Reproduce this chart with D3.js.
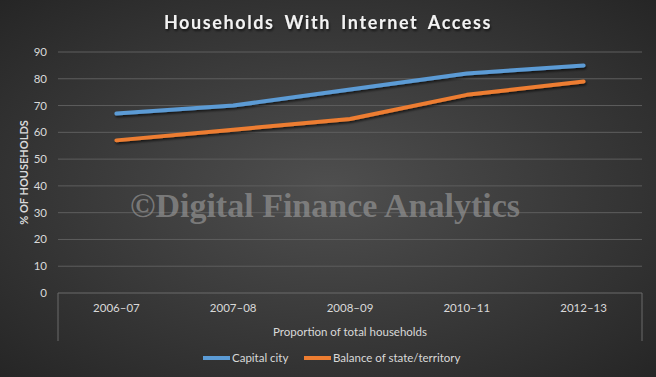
<!DOCTYPE html>
<html>
<head>
<meta charset="utf-8">
<script src="https://cdn.jsdelivr.net/npm/d3@7"></script>
<style>
  html, body { margin: 0; padding: 0; background: #333; }
  svg { display: block; font-family: Lato, "Open Sans", sans-serif; }
</style>
</head>
<body>
<div id="chart"></div>
<script>
const categories = ['2006–07', '2007–08', '2008–09', '2010–11', '2012–13'];
const capitalCity = [67, 70, 76, 82, 85];
const balanceOfState = [57, 61, 65, 74, 79];
const yTicks = [0, 10, 20, 30, 40, 50, 60, 70, 80, 90];
const seriesNames = ['Capital city', 'Balance of state/territory'];
const seriesColors = ['#5b9bd5', '#ed7d31'];

const width = 656;
const height = 377;
const margin = { top: 52, right: 14, bottom: 84, left: 58 };

const svg = d3.select('#chart')
  .append('svg')
  .attr('width', width)
  .attr('height', height);

const defs = svg.append('defs');

// background gradient
const bg = defs.append('radialGradient')
  .attr('id', 'bg')
  .attr('cx', '50%').attr('cy', '50%').attr('r', '75%');
bg.append('stop').attr('offset', '0%').attr('stop-color', '#4f4f4f');
bg.append('stop').attr('offset', '100%').attr('stop-color', '#232323');

const shadow = defs.append('filter').attr('id', 'shadow')
  .attr('x', '-10%').attr('y', '-10%').attr('width', '120%').attr('height', '130%');
shadow.append('feDropShadow')
  .attr('dx', 1).attr('dy', 2).attr('stdDeviation', 1.2)
  .attr('flood-color', '#000').attr('flood-opacity', 0.6);

svg.append('rect')
  .attr('width', width)
  .attr('height', height)
  .attr('fill', 'url(#bg)');

// Title
svg.append('text')
  .attr('x', 328)
  .attr('y', 29)
  .attr('text-anchor', 'middle')
  .attr('fill', '#f2f2f2')
  .attr('filter', 'url(#shadow)')
  .style('font-size', '18px')
  .style('font-weight', 'bold')
  .style('letter-spacing', '1.6px')
  .style('word-spacing', '4px')
  .text('Households With Internet Access');

const plotW = width - margin.left - margin.right;
const plotH = height - margin.top - margin.bottom;

const x = d3.scaleBand()
  .domain(categories)
  .range([margin.left, margin.left + plotW]);

const y = d3.scaleLinear()
  .domain([0, 90])
  .range([margin.top + plotH, margin.top]);

// Gridlines
svg.append('g')
  .selectAll('line')
  .data(yTicks.filter(d => d > 0))
  .join('line')
  .attr('x1', margin.left)
  .attr('x2', margin.left + plotW)
  .attr('y1', d => y(d))
  .attr('y2', d => y(d))
  .attr('stroke', '#5e5e5e')
  .attr('stroke-width', 1);

// Y axis labels
svg.append('g')
  .selectAll('text')
  .data(yTicks)
  .join('text')
  .attr('x', 47)
  .attr('y', d => y(d) + 4)
  .attr('text-anchor', 'end')
  .attr('fill', '#d9d9d9')
  .style('font-size', '11.5px')
  .text(d => d);

// axis box around category area
const boxBottom = 341;
const base = y(0);
svg.append('path')
  .attr('d', `M${margin.left},${boxBottom}V${base}H${margin.left + plotW}V${boxBottom}`)
  .attr('fill', 'none')
  .attr('stroke', '#6a6a6a')
  .attr('stroke-width', 1);

// X tick labels
svg.append('g')
  .selectAll('text')
  .data(categories)
  .join('text')
  .attr('x', d => x(d) + x.bandwidth() / 2)
  .attr('y', 312)
  .attr('text-anchor', 'middle')
  .attr('fill', '#d9d9d9')
  .style('font-size', '11.5px')
  .text(d => d);

// X axis title
svg.append('text')
  .attr('x', margin.left + plotW / 2)
  .attr('y', 336)
  .attr('text-anchor', 'middle')
  .attr('fill', '#d9d9d9')
  .style('font-size', '11.5px')
  .text('Proportion of total households');

// Y axis title
svg.append('text')
  .attr('transform', `translate(28, ${margin.top + plotH / 2}) rotate(-90)`)
  .attr('text-anchor', 'middle')
  .attr('fill', '#d9d9d9')
  .style('font-size', '11px')
  .style('font-weight', 'bold')
  .text('% OF HOUSEHOLDS');

// Watermark
svg.append('text')
  .attr('x', 325)
  .attr('y', 217)
  .attr('text-anchor', 'middle')
  .attr('fill', '#939393')
  .attr('fill-opacity', 0.7)
  .style('font-family', '"Liberation Serif", "DejaVu Serif", serif')
  .style('font-size', '34px')
  .style('font-weight', 'bold')
  .text('©Digital Finance Analytics');

// Lines
const line = d3.line()
  .x((d, i) => x(categories[i]) + x.bandwidth() / 2)
  .y(d => y(d));

[capitalCity, balanceOfState].forEach((vals, i) => {
  svg.append('path')
    .datum(vals)
    .attr('d', line)
    .attr('fill', 'none')
    .attr('stroke', seriesColors[i])
    .attr('stroke-width', 4)
    .attr('stroke-linecap', 'round')
    .attr('stroke-linejoin', 'round')
    .attr('filter', 'url(#shadow)');
});

// Legend
const legendItems = [
  { name: seriesNames[0], color: seriesColors[0], x: 203 },
  { name: seriesNames[1], color: seriesColors[1], x: 304 }
];
const legend = svg.append('g')
  .selectAll('g')
  .data(legendItems)
  .join('g')
  .attr('transform', d => `translate(${d.x}, 358)`);

legend.append('line')
  .attr('x1', 0).attr('x2', 27)
  .attr('stroke', d => d.color)
  .attr('stroke-width', 4);

legend.append('text')
  .attr('x', 29)
  .attr('y', 4)
  .attr('fill', '#d9d9d9')
  .style('font-size', '11.5px')
  .text(d => d.name);
</script>
</body>
</html>
